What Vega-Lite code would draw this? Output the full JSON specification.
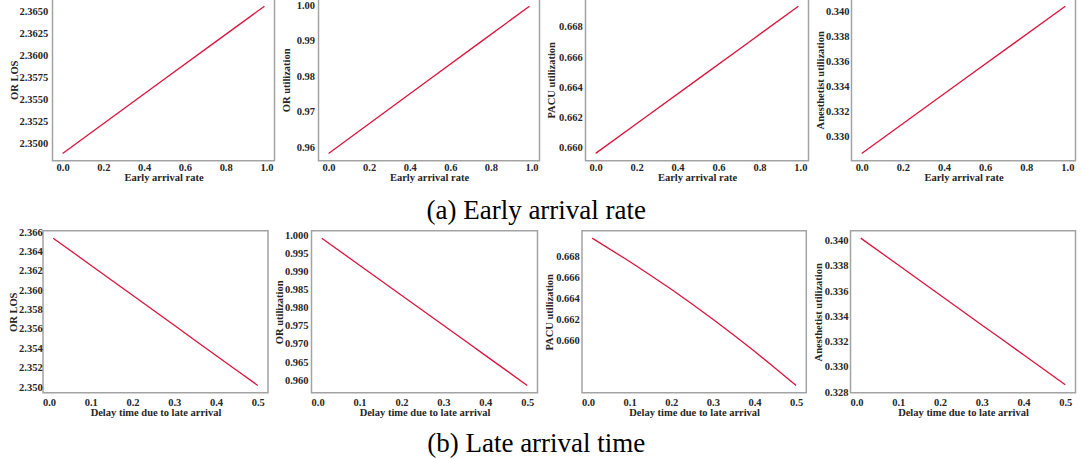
{
  "$schema": "https://vega.github.io/schema/vega-lite/v6.json",
  "background": "white",
  "padding": {"left": -4.5, "top": -2.2, "right": 0, "bottom": 0},
  "datasets": {
    "early": [
      {"rate": 0.0, "or_los": 2.34893, "or_util": 0.95829, "pacu_util": 0.65964, "anes_util": 0.32866},
      {"rate": 0.25, "or_los": 2.35315, "or_util": 0.96877, "pacu_util": 0.6621, "anes_util": 0.33164},
      {"rate": 0.5, "or_los": 2.35737, "or_util": 0.97925, "pacu_util": 0.66455, "anes_util": 0.33462},
      {"rate": 0.75, "or_los": 2.3616, "or_util": 0.98974, "pacu_util": 0.66701, "anes_util": 0.3376},
      {"rate": 0.99, "or_los": 2.36565, "or_util": 0.9998, "pacu_util": 0.66937, "anes_util": 0.34046}
    ],
    "late": [
      {"delay": 0.01, "or_los": 2.36538, "or_util": 0.99926, "pacu_util": 0.6697, "anes_util": 0.34021},
      {"delay": 0.1, "or_los": 2.36259, "or_util": 0.99178, "pacu_util": 0.66748, "anes_util": 0.33808},
      {"delay": 0.15, "or_los": 2.36104, "or_util": 0.98762, "pacu_util": 0.66618, "anes_util": 0.33689},
      {"delay": 0.2, "or_los": 2.35948, "or_util": 0.98347, "pacu_util": 0.66484, "anes_util": 0.3357},
      {"delay": 0.25, "or_los": 2.35793, "or_util": 0.97931, "pacu_util": 0.66344, "anes_util": 0.33452},
      {"delay": 0.3, "or_los": 2.35638, "or_util": 0.97515, "pacu_util": 0.66199, "anes_util": 0.33333},
      {"delay": 0.35, "or_los": 2.35482, "or_util": 0.971, "pacu_util": 0.66049, "anes_util": 0.33215},
      {"delay": 0.4, "or_los": 2.35327, "or_util": 0.96684, "pacu_util": 0.65894, "anes_util": 0.33096},
      {"delay": 0.45, "or_los": 2.35172, "or_util": 0.96269, "pacu_util": 0.65734, "anes_util": 0.32978},
      {"delay": 0.5, "or_los": 2.35017, "or_util": 0.95853, "pacu_util": 0.6557, "anes_util": 0.32859}
    ],
    "spacer": [{"gap": 0}]
  },
  "config": {
    "view": {"stroke": "#a3a3a3", "strokeWidth": 1.5},
    "axis": {
      "grid": false, "ticks": false, "domain": false,
      "labelFont": "Liberation Serif, Times New Roman, DejaVu Serif, serif", "labelFontWeight": "bold", "labelFontSize": 10.5, "labelColor": "#262626",
      "titleFont": "Liberation Serif, Times New Roman, DejaVu Serif, serif", "titleFontWeight": "bold", "titleFontSize": 10.5, "titleColor": "#262626",
      "labelOverlap": false, "labelFlush": false
    },
    "axisY": {"titlePadding": 0},
    "line": {"color": "#dc143c", "strokeWidth": 1.3}
  },
  "spacing": 1,
  "vconcat": [
    {
      "bounds": "full",
      "spacing": 5,
      "title": {"text": "(a) Early arrival rate", "orient": "bottom", "anchor": "middle", "font": "Liberation Serif, Times New Roman, DejaVu Serif, serif", "fontSize": 27, "fontWeight": "normal", "color": "black", "offset": 14},
      "hconcat": [
        {
          "width": 1, "height": 162,
          "view": {"stroke": null},
          "data": {"name": "spacer"},
          "mark": {"type": "point", "opacity": 0}
        },
        {
          "width": 222, "height": 162,
          "data": {"name": "early"},
          "mark": {"type": "line"},
          "encoding": {
            "x": {"field": "rate", "type": "quantitative", "scale": {"domain": [-0.0495, 1.0395], "nice": false, "zero": false},
                  "axis": {"values": [0, 0.2, 0.4, 0.6, 0.8, 1.0], "format": ".1f", "title": "Early arrival rate", "labelPadding": 1.4, "titlePadding": 0}},
            "y": {"field": "or_los", "type": "quantitative", "scale": {"domain": [2.34809, 2.36649], "nice": false, "zero": false},
                  "axis": {"values": [2.35, 2.3525, 2.355, 2.3575, 2.36, 2.3625, 2.365], "format": ".4f", "title": "OR LOS", "labelPadding": 4.7, "minExtent": 33.5, "maxExtent": 33.5}}
          }
        },
        {
          "width": 221, "height": 162,
          "data": {"name": "early"},
          "mark": {"type": "line"},
          "encoding": {
            "x": {"field": "rate", "type": "quantitative", "scale": {"domain": [-0.0495, 1.0395], "nice": false, "zero": false},
                  "axis": {"values": [0, 0.2, 0.4, 0.6, 0.8, 1.0], "format": ".1f", "title": "Early arrival rate", "labelPadding": 1.4, "titlePadding": 0}},
            "y": {"field": "or_util", "type": "quantitative", "scale": {"domain": [0.95621, 1.00188], "nice": false, "zero": false},
                  "axis": {"values": [0.96, 0.97, 0.98, 0.99, 1.0], "format": ".2f", "title": "OR utilization", "labelPadding": 4, "minExtent": 27.2, "maxExtent": 27.2}}
          }
        },
        {
          "width": 223, "height": 162,
          "data": {"name": "early"},
          "mark": {"type": "line"},
          "encoding": {
            "x": {"field": "rate", "type": "quantitative", "scale": {"domain": [-0.0495, 1.0395], "nice": false, "zero": false},
                  "axis": {"values": [0, 0.2, 0.4, 0.6, 0.8, 1.0], "format": ".1f", "title": "Early arrival rate", "labelPadding": 1.4, "titlePadding": 0}},
            "y": {"field": "pacu_util", "type": "quantitative", "scale": {"domain": [0.65915, 0.66986], "nice": false, "zero": false},
                  "axis": {"values": [0.66, 0.662, 0.664, 0.666, 0.668], "format": ".3f", "title": "PACU utilization", "labelPadding": 3.3, "minExtent": 28.5, "maxExtent": 28.5}}
          }
        },
        {
          "width": 224, "height": 162,
          "data": {"name": "early"},
          "mark": {"type": "line"},
          "encoding": {
            "x": {"field": "rate", "type": "quantitative", "scale": {"domain": [-0.0495, 1.0395], "nice": false, "zero": false},
                  "axis": {"values": [0, 0.2, 0.4, 0.6, 0.8, 1.0], "format": ".1f", "title": "Early arrival rate", "labelPadding": 1.4, "titlePadding": 0}},
            "y": {"field": "anes_util", "type": "quantitative", "scale": {"domain": [0.32807, 0.34105], "nice": false, "zero": false},
                  "axis": {"values": [0.33, 0.332, 0.334, 0.336, 0.338, 0.34], "format": ".3f", "title": "Anesthetist utilization", "labelPadding": 2.5, "minExtent": 25.9, "maxExtent": 25.9}}
          }
        }
      ]
    },
    {
      "bounds": "full",
      "spacing": 4.5,
      "title": {"text": "(b) Late arrival time", "orient": "bottom", "anchor": "middle", "font": "Liberation Serif, Times New Roman, DejaVu Serif, serif", "fontSize": 27, "fontWeight": "normal", "color": "black", "offset": 12.5},
      "hconcat": [
        {
          "width": 1, "height": 162,
          "view": {"stroke": null},
          "data": {"name": "spacer"},
          "mark": {"type": "point", "opacity": 0}
        },
        {
          "width": 225, "height": 162,
          "data": {"name": "late"},
          "mark": {"type": "line"},
          "encoding": {
            "x": {"field": "delay", "type": "quantitative", "scale": {"domain": [-0.0145, 0.5245], "nice": false, "zero": false},
                  "axis": {"values": [0, 0.1, 0.2, 0.3, 0.4, 0.5], "format": ".1f", "title": "Delay time due to late arrival", "labelPadding": 4.8, "titlePadding": -0.5}},
            "y": {"field": "or_los", "type": "quantitative", "scale": {"domain": [2.34941, 2.36614], "nice": false, "zero": false},
                  "axis": {"values": [2.35, 2.352, 2.354, 2.356, 2.358, 2.36, 2.362, 2.364, 2.366], "format": ".3f", "title": "OR LOS", "labelPadding": 0.8, "minExtent": 25, "maxExtent": 25}}
          }
        },
        {
          "width": 226, "height": 162,
          "data": {"name": "late"},
          "mark": {"type": "line"},
          "encoding": {
            "x": {"field": "delay", "type": "quantitative", "scale": {"domain": [-0.0145, 0.5245], "nice": false, "zero": false},
                  "axis": {"values": [0, 0.1, 0.2, 0.3, 0.4, 0.5], "format": ".1f", "title": "Delay time due to late arrival", "labelPadding": 4.8, "titlePadding": -0.5}},
            "y": {"field": "or_util", "type": "quantitative", "scale": {"domain": [0.95649, 1.0013], "nice": false, "zero": false},
                  "axis": {"values": [0.96, 0.965, 0.97, 0.975, 0.98, 0.985, 0.99, 0.995, 1.0], "format": ".3f", "title": "OR utilization", "labelPadding": 3.5, "minExtent": 27, "maxExtent": 27}}
          }
        },
        {
          "width": 224.3, "height": 162,
          "data": {"name": "late"},
          "mark": {"type": "line"},
          "encoding": {
            "x": {"field": "delay", "type": "quantitative", "scale": {"domain": [-0.0145, 0.5245], "nice": false, "zero": false},
                  "axis": {"values": [0, 0.1, 0.2, 0.3, 0.4, 0.5], "format": ".1f", "title": "Delay time due to late arrival", "labelPadding": 4.8, "titlePadding": -0.5}},
            "y": {"field": "pacu_util", "type": "quantitative", "scale": {"domain": [0.655, 0.6704], "nice": false, "zero": false},
                  "axis": {"values": [0.66, 0.662, 0.664, 0.666, 0.668], "format": ".3f", "title": "PACU utilization", "labelPadding": 2.7, "minExtent": 27.7, "maxExtent": 27.7}}
          }
        },
        {
          "width": 225, "height": 162,
          "data": {"name": "late"},
          "mark": {"type": "line"},
          "encoding": {
            "x": {"field": "delay", "type": "quantitative", "scale": {"domain": [-0.0145, 0.5245], "nice": false, "zero": false},
                  "axis": {"values": [0, 0.1, 0.2, 0.3, 0.4, 0.5], "format": ".1f", "title": "Delay time due to late arrival", "labelPadding": 4.8, "titlePadding": -0.5}},
            "y": {"field": "anes_util", "type": "quantitative", "scale": {"domain": [0.32795, 0.34079], "nice": false, "zero": false},
                  "axis": {"values": [0.328, 0.33, 0.332, 0.334, 0.336, 0.338, 0.34], "format": ".3f", "title": "Anesthetist utilization", "labelPadding": 2.6, "minExtent": 27, "maxExtent": 27}}
          }
        }
      ]
    }
  ]
}
